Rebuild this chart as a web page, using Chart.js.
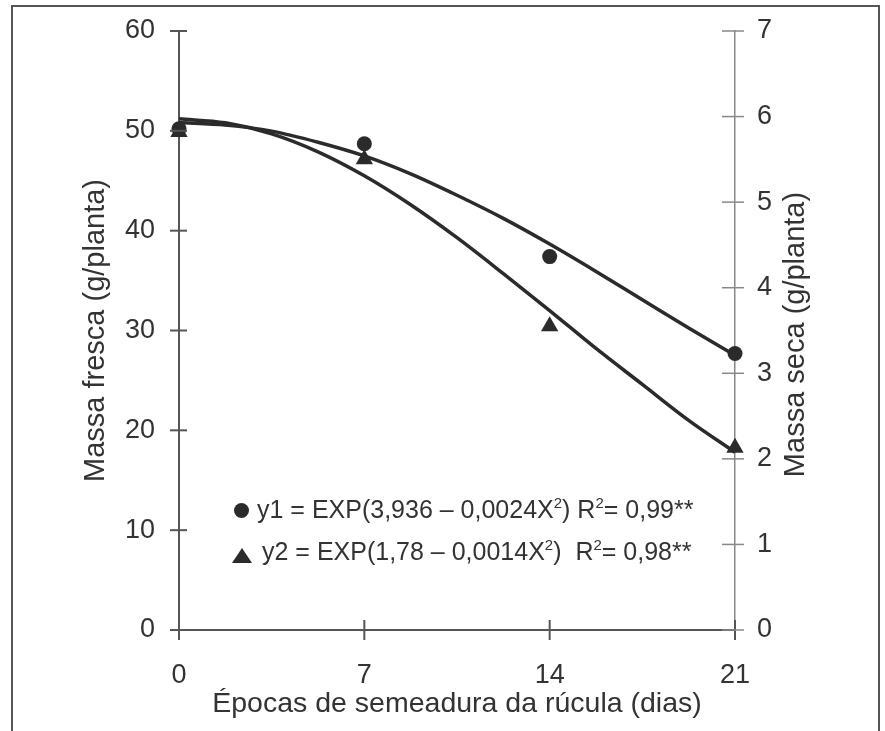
<!DOCTYPE html>
<html>
<head>
<meta charset="utf-8">
<script src="https://cdn.jsdelivr.net/npm/chart.js@4.4.1/dist/chart.umd.min.js"></script>
<style>
  body { margin: 0; background: #fff; }
  #wrap { position: relative; width: 885px; height: 731px; }
  .leg { position: absolute; font-family: "Liberation Sans", Arial, sans-serif; font-size: 25px; color: #333; white-space: pre; }
  .leg sup { font-size: 15px; line-height: 0; vertical-align: 10px; }
  .dot { position: absolute; width: 15px; height: 15px; border-radius: 50%; background: #2b2b2b; }
  .tri { position: absolute; width: 0; height: 0; border-left: 10px solid transparent; border-right: 10px solid transparent; border-bottom: 15px solid #2b2b2b; }
</style>
</head>
<body>
<div id="wrap">
  <canvas id="chart" width="885" height="731"></canvas>
  <div class="dot" style="left:234px; top:503px;"></div>
  <div class="leg" style="left:257px; top:495px;">y1 = EXP(3,936 – 0,0024X<sup>2</sup>) R<sup>2</sup>= 0,99**</div>
  <div class="tri" style="left:232px; top:548px;"></div>
  <div class="leg" style="left:262px; top:537px;">y2 = EXP(1,78 – 0,0014X<sup>2</sup>)  R<sup>2</sup>= 0,98**</div>
</div>
<script>
// sowing dates (days)
var days = [0, 7, 14, 21];
// observed means
var freshMass = [50.2, 48.7, 37.4, 27.7];   // g/planta, left axis (circles)
var dryMass = [5.82, 5.50, 3.55, 2.13];     // g/planta, right axis (triangles)

// fitted curves
var curveDays = [0, 1.75, 3.5, 5.25, 7, 8.75, 10.5, 12.25, 14, 15.75, 17.5, 19.25, 21];
var upperFit = [5.93, 5.90, 5.83, 5.70, 5.54, 5.33, 5.08, 4.81, 4.51, 4.19, 3.86, 3.53, 3.21];  // right axis
var lowerFit = [51.2, 50.8, 49.7, 47.9, 45.5, 42.6, 39.3, 35.7, 32.0, 28.2, 24.6, 21.0, 17.8];  // left axis

var leftTicks = [0, 10, 20, 30, 40, 50, 60];
var rightTicks = [0, 1, 2, 3, 4, 5, 6, 7];
var xTicks = [0, 7, 14, 21];

var ink = '#2b2b2b';
var textColor = '#333';
var fontFamily = '"Liberation Sans", Arial, sans-serif';

function pts(xs, ys) {
    return xs.map(function (x, i) { return { x: x, y: ys[i] }; });
}

var frameAndTicks = {
    id: 'frameAndTicks',
    beforeDraw: function (chart) {
        var ctx = chart.ctx;
        ctx.save();
        ctx.fillStyle = '#fff';
        ctx.fillRect(0, 0, chart.width, chart.height);
        ctx.strokeStyle = '#555';
        ctx.lineWidth = 2;
        ctx.strokeRect(12, 6, 867, 740);
        ctx.restore();
    },
    afterDraw: function (chart) {
        var ctx = chart.ctx;
        var x = chart.scales.x, y = chart.scales.y, y1 = chart.scales.y1;
        ctx.save();
        ctx.strokeStyle = '#555';
        ctx.lineWidth = 2;
        x.ticks.forEach(function (t) {
            var p = x.getPixelForValue(t.value);
            ctx.beginPath(); ctx.moveTo(p, x.top - 10); ctx.lineTo(p, x.top + 10); ctx.stroke();
        });
        y.ticks.forEach(function (t) {
            var p = y.getPixelForValue(t.value);
            ctx.beginPath(); ctx.moveTo(y.right - 9, p); ctx.lineTo(y.right + 8, p); ctx.stroke();
        });
        ctx.strokeStyle = '#888';
        ctx.lineWidth = 1.5;
        y1.ticks.forEach(function (t) {
            var p = y1.getPixelForValue(t.value);
            ctx.beginPath(); ctx.moveTo(y1.left - 13, p); ctx.lineTo(y1.left + 9, p); ctx.stroke();
        });

        // right axis title reads bottom to top, like the left one
        ctx.fillStyle = textColor;
        ctx.font = '29px ' + fontFamily;
        ctx.textAlign = 'center';
        ctx.textBaseline = 'middle';
        ctx.translate(796, (y1.top + y1.bottom) / 2 + 4);
        ctx.rotate(-Math.PI / 2);
        ctx.fillText('Massa seca (g/planta)', 0, 0);
        ctx.restore();
    }
};

function noEdgePadding(s) {
    s.paddingTop = 0;
    s.paddingBottom = 0;
}

new Chart(document.getElementById('chart'), {
    type: 'scatter',
    data: {
        datasets: [{
            data: pts(days, freshMass),
            yAxisID: 'y',
            pointStyle: 'circle',
            pointRadius: 7.5,
            pointBackgroundColor: ink,
            pointBorderWidth: 0,
            showLine: false,
            clip: false
        }, {
            data: pts(days, dryMass),
            yAxisID: 'y1',
            pointStyle: 'triangle',
            pointRadius: 10,
            pointBackgroundColor: ink,
            pointBorderWidth: 0,
            showLine: false,
            clip: false
        }, {
            data: pts(curveDays, upperFit),
            yAxisID: 'y1',
            showLine: true,
            pointRadius: 0,
            borderColor: ink,
            borderWidth: 3.5,
            cubicInterpolationMode: 'monotone',
            clip: false
        }, {
            data: pts(curveDays, lowerFit),
            yAxisID: 'y',
            showLine: true,
            pointRadius: 0,
            borderColor: ink,
            borderWidth: 3.5,
            cubicInterpolationMode: 'monotone',
            clip: false
        }]
    },
    options: {
        responsive: false,
        animation: false,
        layout: { padding: { top: 31, left: 0, right: 0, bottom: 0 } },
        plugins: { legend: { display: false }, tooltip: { enabled: false } },
        scales: {
            x: {
                type: 'linear',
                min: 0, max: 21,
                afterBuildTicks: function (s) { s.ticks = xTicks.map(function (v) { return { value: v }; }); },
                afterFit: function (s) { s.height = 101; },
                grid: { drawOnChartArea: false, drawTicks: false },
                border: { display: true, color: '#555', width: 2 },
                ticks: { padding: 29, color: textColor, font: { family: fontFamily, size: 27 } },
                title: {
                    display: true,
                    text: 'Épocas de semeadura da rúcula (dias)',
                    color: textColor,
                    font: { family: fontFamily, size: 28.5 },
                    padding: { top: 0, bottom: 10 }
                }
            },
            y: {
                position: 'left',
                min: 0, max: 60,
                afterBuildTicks: function (s) { s.ticks = leftTicks.map(function (v) { return { value: v }; }); },
                afterFit: function (s) { s.width = 179; noEdgePadding(s); },
                grid: { drawOnChartArea: false, drawTicks: false },
                border: { display: true, color: '#555', width: 2 },
                ticks: { padding: 24, color: textColor, font: { family: fontFamily, size: 27 } },
                title: {
                    display: true,
                    text: 'Massa fresca (g/planta)',
                    color: textColor,
                    font: { family: fontFamily, size: 29 },
                    padding: { top: 79, bottom: 0 }
                }
            },
            y1: {
                position: 'right',
                min: 0, max: 7,
                afterBuildTicks: function (s) { s.ticks = rightTicks.map(function (v) { return { value: v }; }); },
                afterFit: function (s) { s.width = 150; noEdgePadding(s); },
                grid: { drawOnChartArea: false, drawTicks: false },
                border: { display: true, color: '#888', width: 1.5 },
                ticks: { padding: 22, color: textColor, font: { family: fontFamily, size: 27 } }
            }
        }
    },
    plugins: [frameAndTicks]
});
</script>
</body>
</html>
